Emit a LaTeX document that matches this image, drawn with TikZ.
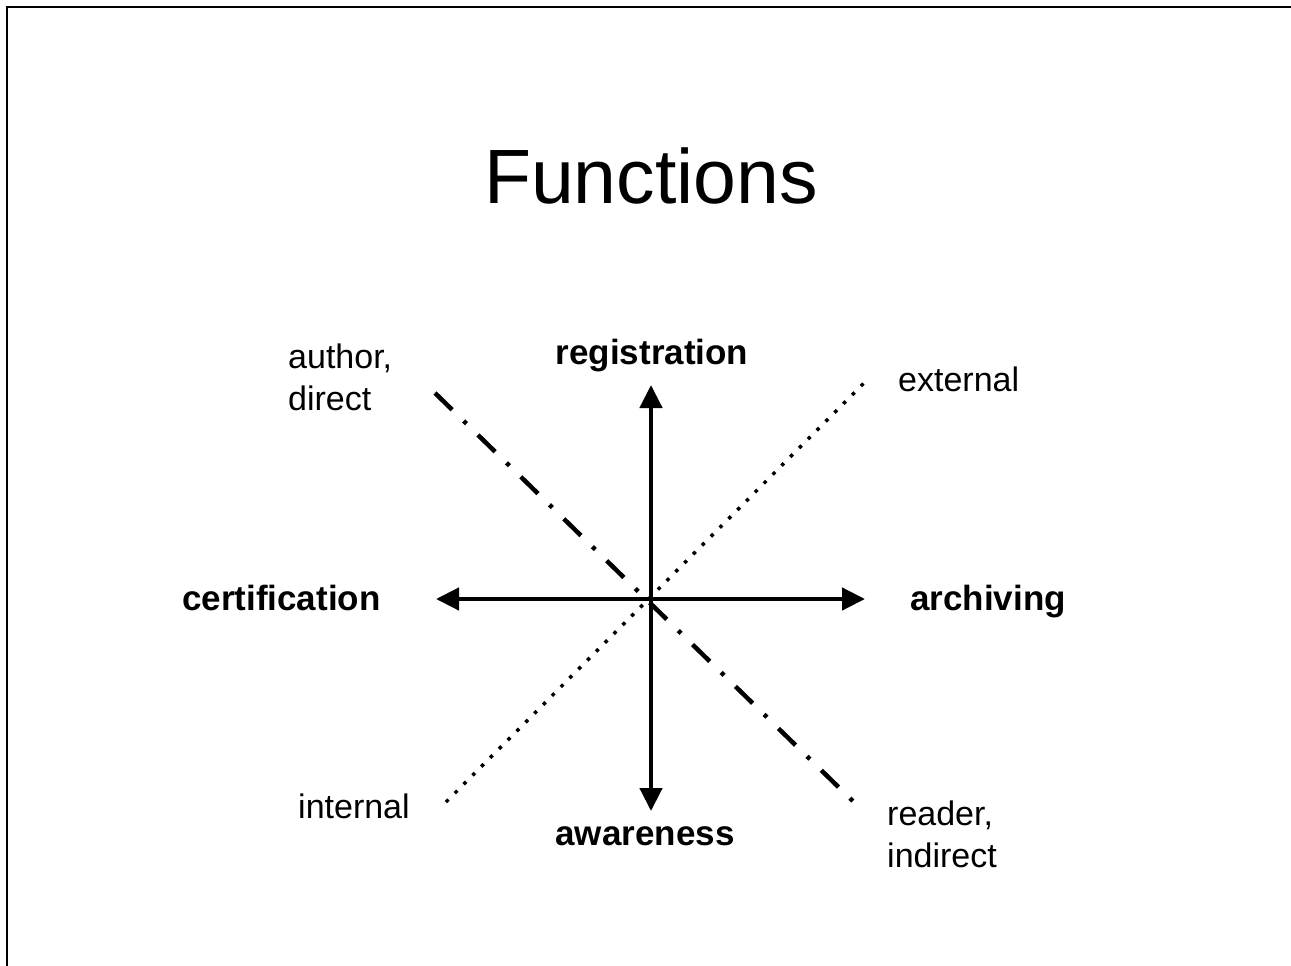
\documentclass[tikz,border=0pt]{standalone}
\usepackage{fontspec}
\setmainfont{Liberation Sans}
\usetikzlibrary{arrows.meta}
\begin{document}
\begin{tikzpicture}[x=1pt,y=-1pt,
  axis/.style={line width=4.5pt,{Triangle[length=23pt,width=22pt]}-{Triangle[length=23pt,width=22pt]}},
  dashdotline/.style={line width=4.5pt,dash pattern=on 24pt off 16pt on 4pt off 16pt},
  dotline/.style={line width=3.5pt,dash pattern=on 3.5pt off 9pt},
  boldlabel/.style={inner sep=0pt,font=\fontsize{35}{42}\selectfont\bfseries},
  plainlabel/.style={inner sep=0pt,font=\fontsize{34}{42}\selectfont,align=left},
  titlelabel/.style={inner sep=0pt,font=\fontsize{77}{90}\selectfont}
]
\useasboundingbox (0,0) rectangle (1291,966);
\fill[white] (0,0) rectangle (1291,966);
% frame
\draw[line width=2.5pt] (7,966) -- (7,7) -- (1291,7);

% title
\node[titlelabel,anchor=base] (title) at (651,203) {Functions};

% axes
\coordinate (up) at (651,385);
\coordinate (down) at (651,811);
\coordinate (left) at (436,599);
\coordinate (right) at (865,599);
\draw[axis] (down) -- (up);
\draw[axis] (left) -- (right);

% diagonals
\coordinate (adir) at (435,393);
\coordinate (rind) at (864,812);
\coordinate (intl) at (446,802);
\coordinate (extl) at (865,382);
\draw[dashdotline] (adir) -- (rind);
\draw[dotline] (intl) -- (extl);

% labels
\node[boldlabel,anchor=base] (reg) at (652,364) {registration};
\node[boldlabel,anchor=base] (awa) at (645,845) {awareness};
\node[boldlabel,anchor=base west] (cert) at (182,610) {certification};
\node[boldlabel,anchor=base west] (arch) at (910,610) {archiving};

\node[plainlabel,anchor=base west] (auth) at (288,368) {author,};
\node[plainlabel,anchor=base west] (dir) at (288,410) {direct};
\node[plainlabel,anchor=base west] (ext) at (898,391) {external};
\node[plainlabel,anchor=base west] (int) at (298,818) {internal};
\node[plainlabel,anchor=base west] (read) at (887,825) {reader,};
\node[plainlabel,anchor=base west] (indir) at (887,867) {indirect};
\end{tikzpicture}
\end{document}
